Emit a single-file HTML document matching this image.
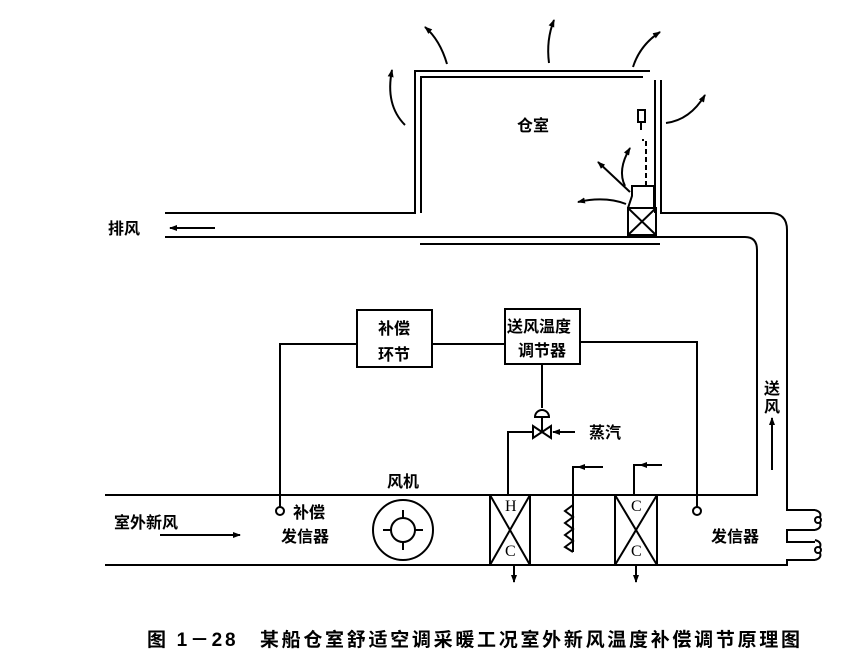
<!DOCTYPE html>
<html><head><meta charset="utf-8"><style>
html,body{margin:0;padding:0;background:#fff;}
svg{display:block}
text{font-family:"Liberation Sans","Noto Sans CJK SC",sans-serif;font-weight:bold;fill:#000}
</style></head><body>
<svg width="854" height="660" viewBox="0 0 854 660" xmlns="http://www.w3.org/2000/svg">
<defs><marker id="a" markerWidth="8" markerHeight="8" refX="7" refY="4" orient="auto" markerUnits="userSpaceOnUse"><path d="M0,1 L8,4 L0,7 z" fill="#000"/></marker></defs>
<g fill="none" stroke="#000" stroke-width="2">
<path d="M165,213 H415 V71 H650"/>
<path d="M421,213 V77 H643"/>
<path d="M655,80 V213 M661,80 V213"/>
<path d="M165,237 H660"/>
<path d="M420,244 H660"/>
<path d="M660,213 H770 Q787,213 787,230 V510 H815 M815,530 H787 V542 H815 M815,560 H787 V565 H105"/>
<path d="M660,237 H745 Q757,237 757,250 V495 H105"/>
<circle cx="818" cy="520" r="3"/><circle cx="818" cy="550" r="3"/>
<path d="M815,510 Q822,512 820,517 M815,530 Q822,528 820,523 M815,540 Q822,542 820,547 M815,560 Q822,558 820,553"/>
<rect x="628" y="208" width="28" height="27"/>
<path d="M628,208 L656,235 M656,208 L628,235"/>
<path d="M628,208 L632,196 V186 H654 V208"/>
<path d="M646,186 V140 H642" stroke-dasharray="5,3"/>
<rect x="638" y="110" width="7" height="12"/><path d="M641,122 V130"/>
<path d="M405,125 Q385,105 392,70" marker-end="url(#a)"/>
<path d="M447,64 Q440,40 425,27" marker-end="url(#a)"/>
<path d="M549,63 Q546,40 554,20" marker-end="url(#a)"/>
<path d="M633,67 Q640,45 660,32" marker-end="url(#a)"/>
<path d="M666,123 Q690,120 705,95" marker-end="url(#a)"/>
<path d="M625,186 Q617,170 630,148" marker-end="url(#a)"/>
<path d="M630,192 Q615,178 598,162" marker-end="url(#a)"/>
<path d="M626,204 Q605,196 578,202" marker-end="url(#a)"/>
<path d="M215,228 H170" marker-end="url(#a)"/>
<path d="M160,535 H240" marker-end="url(#a)"/>
<path d="M772,470 V418" marker-end="url(#a)"/>
<rect x="357" y="310" width="75" height="57"/>
<rect x="505" y="309" width="75" height="55"/>
<path d="M357,344 H280 V507 M432,344 H505 M580,342 H697 V507"/>
<circle cx="280" cy="511" r="4"/><circle cx="697" cy="511" r="4"/>
<path d="M542,364 V408"/>
<path d="M535,417 A7,7 0 0 1 549,417 Z M542,417 V432"/>
<path d="M533,426 L551,438 V426 L533,438 Z"/>
<path d="M575,432 H553" marker-end="url(#a)"/>
<path d="M533,432 H508 V495"/>
<rect x="490" y="495" width="40" height="70"/><path d="M490,495 L530,565 M530,495 L490,565"/>
<rect x="615" y="495" width="42" height="70"/><path d="M615,495 L657,565 M657,495 L615,565"/>
<path d="M514,565 V582" marker-end="url(#a)"/>
<path d="M636,565 V582" marker-end="url(#a)"/>
<path d="M573,552 V467 H603"/>
<path d="M603,467 H578" marker-end="url(#a)"/>
<path d="M634,495 V465 H662"/>
<path d="M662,465 H640" marker-end="url(#a)"/>
<path d="M573,505 L565,511 L573,517 L565,523 L573,529 L565,535 L573,541 L565,547 L573,552"/>
<circle cx="403" cy="530" r="30"/><circle cx="403" cy="530" r="12"/>
<path d="M403,510 V518 M403,542 V550 M383,530 H391 M415,530 H423"/>
</g>
<g fill="#fff" stroke="none"><rect x="504" y="498" width="12" height="14"/><rect x="504" y="543" width="12" height="14"/><rect x="630" y="498" width="12" height="14"/><rect x="630" y="543" width="12" height="14"/></g>
<g font-size="16">
<text x="505" y="511" style="font-family:'Liberation Serif',serif;font-weight:normal">H</text>
<text x="505" y="556" style="font-family:'Liberation Serif',serif;font-weight:normal">C</text>
<text x="631" y="511" style="font-family:'Liberation Serif',serif;font-weight:normal">C</text>
<text x="631" y="556" style="font-family:'Liberation Serif',serif;font-weight:normal">C</text>
</g>
<g font-size="16">
<text x="517" y="131">仓室</text>
<text x="108" y="234">排风</text>
<text x="378" y="334">补偿</text>
<text x="378" y="360">环节</text>
<text x="507" y="332">送风温度</text>
<text x="518" y="356">调节器</text>
<text x="589" y="438">蒸汽</text>
<text x="387" y="487">风机</text>
<text x="293" y="518">补偿</text>
<text x="281" y="542">发信器</text>
<text x="711" y="542">发信器</text>
<text x="114" y="528">室外新风</text>
<text x="764" y="394">送</text>
<text x="764" y="412">风</text>
<text x="147" y="646" font-size="19" textLength="653" lengthAdjust="spacing">图 1－28　某船仓室舒适空调采暖工况室外新风温度补偿调节原理图</text>
</g>
</svg>
</body></html>
